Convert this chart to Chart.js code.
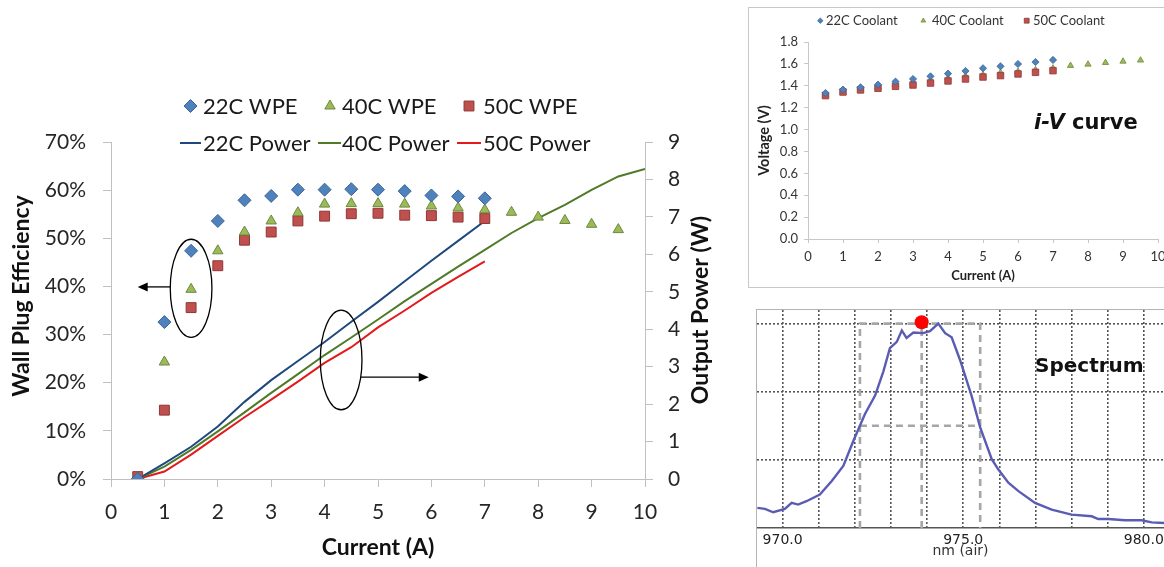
<!DOCTYPE html>
<html>
<head>
<meta charset="utf-8">
<script src="https://cdn.jsdelivr.net/npm/chart.js@4.4.1/dist/chart.umd.min.js"></script>
<style>
  html, body { margin: 0; padding: 0; background: #fff; overflow: hidden; }
  #page { position: relative; width: 1164px; height: 567px; overflow: hidden; }
  #mainChart { position: absolute; left: 0; top: 0; }
  #ivFrame { position: absolute; left: 748px; top: 7px; width: 431px; height: 279px; border: 1px solid #c8c8c8; }
  #specFrame { position: absolute; left: 756px; top: 309px; width: 407px; height: 257px; border: 1px solid #b4b4b4; }
  #ivFrame canvas, #specFrame canvas { position: absolute; left: 0; top: 0; }
  .note { position: absolute; font-family: 'DejaVu Sans', sans-serif; font-weight: bold; color: #111; white-space: nowrap; }
</style>
</head>
<body>
<div id="page">
  <canvas id="mainChart" width="745" height="567"></canvas>
  <div id="ivFrame"><canvas id="ivChart" width="431" height="279"></canvas></div>
  <div id="specFrame"><canvas id="specChart" width="407" height="257"></canvas></div>
  <div class="note" style="left:1034px; top:110px; font-size:21px;"><i>i-V</i> curve</div>
  <div class="note" style="left:1035px; top:353px; font-size:20px;">Spectrum</div>
</div>
<script>
// ---- main chart data (current in A, WPE in %, power in W)
const current = [0.5, 1, 1.5, 2, 2.5, 3, 3.5, 4, 4.5, 5, 5.5, 6, 6.5, 7, 7.5, 8, 8.5, 9, 9.5, 10];
const wpe22 = [0.0, 32.6, 47.4, 53.6, 57.9, 58.8, 60.1, 60.1, 60.2, 60.1, 59.8, 58.9, 58.7, 58.3];
const wpe40 = [0.0, 24.3, 39.4, 47.4, 51.3, 53.6, 55.3, 57.1, 57.2, 57.2, 57.1, 56.7, 56.3, 55.9, 55.4, 54.4, 53.7, 52.9, 51.8];
const wpe50 = [0.5, 14.3, 35.6, 44.3, 49.6, 51.3, 53.6, 54.6, 55.1, 55.2, 54.8, 54.7, 54.4, 54.1];
const power22 = [0, 0.42, 0.86, 1.40, 2.06, 2.64, 3.15, 3.66, 4.20, 4.73, 5.28, 5.83, 6.36, 6.89];
const power40 = [0, 0.33, 0.78, 1.27, 1.78, 2.30, 2.80, 3.31, 3.78, 4.26, 4.75, 5.21, 5.67, 6.12, 6.57, 6.97, 7.32, 7.72, 8.08, 8.28];
const power50 = [0, 0.20, 0.65, 1.15, 1.65, 2.12, 2.60, 3.10, 3.52, 4.05, 4.50, 4.97, 5.40, 5.81];
const currentTicks = [0, 1, 2, 3, 4, 5, 6, 7, 8, 9, 10];
const wpeTicks = [0, 10, 20, 30, 40, 50, 60, 70];
const powerTicks = [0, 1, 2, 3, 4, 5, 6, 7, 8, 9];

// callouts: ellipse centre / radii in data units, arrow tip in data units
const wpeCallout = { x: 1.5, y: 39.6, rx: 0.39, ry: 10.2, arrowX: 0.5, arrowY: 39.9 };
const powerCallout = { x: 4.31, y: 3.18, rx: 0.39, ry: 1.33, arrowX: 5.95, arrowY: 2.72 };

// ---- i-V inset data (current in A, voltage in V)
const iv22 = [1.334, 1.365, 1.386, 1.410, 1.438, 1.462, 1.486, 1.511, 1.535, 1.560, 1.578, 1.599, 1.617, 1.636];
const iv40 = [1.320, 1.350, 1.370, 1.390, 1.410, 1.430, 1.450, 1.470, 1.490, 1.500, 1.520, 1.530, 1.545, 1.560, 1.584, 1.596, 1.611, 1.623, 1.633];
const iv50 = [1.310, 1.343, 1.362, 1.377, 1.395, 1.407, 1.425, 1.444, 1.462, 1.480, 1.493, 1.508, 1.523, 1.538];
const voltTicks = [0, 0.2, 0.4, 0.6, 0.8, 1.0, 1.2, 1.4, 1.6, 1.8];

// ---- spectrum inset data (wavelength in nm, intensity in grid units)
const specNm = [969.30, 969.51, 969.74, 970.06, 970.25, 970.43, 970.66, 971.03, 971.36, 971.68, 971.96, 972.28, 972.56, 972.79, 972.97, 973.16, 973.30, 973.43, 973.62, 973.89, 974.08, 974.31, 974.50, 974.68, 974.91, 975.23, 975.47, 975.79, 975.97, 976.25, 976.53, 976.99, 977.45, 978.00, 978.56, 978.74, 979.02, 979.48, 979.94, 980.22, 980.56];
const specVal = [0.295, 0.280, 0.231, 0.280, 0.369, 0.344, 0.393, 0.492, 0.689, 0.910, 1.280, 1.674, 1.944, 2.300, 2.640, 2.732, 2.900, 2.790, 2.870, 2.860, 2.890, 3.000, 2.860, 2.800, 2.470, 1.944, 1.476, 1.009, 0.861, 0.664, 0.541, 0.369, 0.270, 0.196, 0.172, 0.132, 0.132, 0.113, 0.113, 0.083, 0.073];
const specGridNm = [970, 971, 972, 973, 974, 975, 976, 977, 978, 979, 980];
const specLabelNm = [970, 975, 980];
const specGridVal = [1, 2, 3];
const fwhmNm = [972.14, 975.47];
const peakNm = 973.85;
const peakDot = 3.02;
const peakLevel = 3.0;
const halfLevel = 1.5;

Chart.defaults.font.family = 'Lato';
Chart.defaults.animation = false;

function pts(xs, ys) {
  return ys.map((v, i) => ({ x: xs[i], y: v }));
}

function fixedTicks(values) {
  return scale => { scale.ticks = values.map(v => ({ value: v })); };
}

function marker(ctx, ds, x, y, scale = 1) {
  ctx.fillStyle = ds.backgroundColor;
  ctx.strokeStyle = ds.borderColor;
  ctx.lineWidth = ds.borderWidth;
  Chart.helpers.drawPoint(ctx, { pointStyle: ds.pointStyle, radius: ds.pointRadius * scale, rotation: 0, borderWidth: ds.borderWidth }, x, y);
}

function rotatedText(ctx, text, x, y) {
  ctx.save();
  ctx.translate(x, y);
  ctx.rotate(-Math.PI / 2);
  ctx.fillText(text, 0, 0);
  ctx.restore();
}

function arrow(ctx, x1, x2, y) {
  const dir = Math.sign(x2 - x1);
  ctx.beginPath();
  ctx.moveTo(x1, y);
  ctx.lineTo(x2 - dir * 8, y);
  ctx.stroke();
  ctx.beginPath();
  ctx.moveTo(x2, y);
  ctx.lineTo(x2 - dir * 10, y - 4.5);
  ctx.lineTo(x2 - dir * 10, y + 4.5);
  ctx.closePath();
  ctx.fill();
}

function callout(ctx, xs, ys, c) {
  const cx = xs.getPixelForValue(c.x), cy = ys.getPixelForValue(c.y);
  const rx = xs.getPixelForValue(c.x + c.rx) - cx;
  const ry = cy - ys.getPixelForValue(c.y + c.ry);
  ctx.beginPath();
  ctx.ellipse(cx, cy, rx, ry, 0, 0, Math.PI * 2);
  ctx.stroke();
  const ay = ys.getPixelForValue(c.arrowY);
  const tip = xs.getPixelForValue(c.arrowX);
  const k = (ay - cy) / ry;
  const edge = cx + Math.sign(tip - cx) * rx * Math.sqrt(1 - k * k);
  arrow(ctx, edge, tip, ay);
}

// ---------------- main chart ----------------
const mainLegend = [
  { ds: 0, text: '22C WPE', mx: 190.5, tx: 203, y: 106, base: 114 },
  { ds: 1, text: '40C WPE', mx: 330, tx: 342, y: 106, base: 114 },
  { ds: 2, text: '50C WPE', mx: 469, tx: 483, y: 106, base: 114 },
  { ds: 3, text: '22C Power', lx: [180, 201], tx: 203, y: 143, base: 151 },
  { ds: 4, text: '40C Power', lx: [318, 341], tx: 342, y: 143, base: 151 },
  { ds: 5, text: '50C Power', lx: [457, 481], tx: 483, y: 143, base: 151 }
];

const mainDecor = {
  id: 'mainDecor',
  afterDraw(chart) {
    const { ctx } = chart;
    const { x, y, y1 } = chart.scales;
    ctx.save();
    ctx.fillStyle = '#111';
    ctx.font = 'bold 23px Lato';
    ctx.textAlign = 'center';
    ctx.textBaseline = 'middle';
    rotatedText(ctx, 'Wall Plug Efficiency', 22, 296);
    rotatedText(ctx, 'Output Power (W)', 701, 310);

    ctx.font = '22px Lato';
    ctx.textAlign = 'left';
    ctx.textBaseline = 'alphabetic';
    mainLegend.forEach(item => {
      const ds = chart.data.datasets[item.ds];
      if (item.lx) {
        ctx.strokeStyle = ds.borderColor;
        ctx.lineWidth = 2;
        ctx.beginPath();
        ctx.moveTo(item.lx[0], item.y);
        ctx.lineTo(item.lx[1], item.y);
        ctx.stroke();
      } else {
        marker(ctx, ds, item.mx, item.y);
      }
      ctx.fillStyle = '#1a1a1a';
      ctx.fillText(item.text, item.tx, item.base);
    });

    ctx.strokeStyle = '#000';
    ctx.fillStyle = '#000';
    ctx.lineWidth = 1.3;
    callout(ctx, x, y, wpeCallout);
    callout(ctx, x, y1, powerCallout);
    ctx.restore();
  }
};

const axisGray = '#c0c0c0';
const tickFont = { family: 'Lato', size: 21 };

new Chart(document.getElementById('mainChart'), {
  type: 'line',
  data: {
    datasets: [
      { type: 'scatter', label: '22C WPE', data: pts(current, wpe22), yAxisID: 'y', pointStyle: 'rectRot', pointRadius: 6.5, backgroundColor: '#4f81bd', borderColor: '#3a6595', borderWidth: 1 },
      { type: 'scatter', label: '40C WPE', data: pts(current, wpe40), yAxisID: 'y', pointStyle: 'triangle', pointRadius: 6, backgroundColor: '#9bbb59', borderColor: '#6f883f', borderWidth: 1 },
      { type: 'scatter', label: '50C WPE', data: pts(current, wpe50), yAxisID: 'y', pointStyle: 'rect', pointRadius: 7, backgroundColor: '#c0504d', borderColor: '#8c3836', borderWidth: 1 },
      { type: 'line', label: '22C Power', data: pts(current, power22), yAxisID: 'y1', borderColor: '#1f497d', borderWidth: 2, pointRadius: 0, tension: 0 },
      { type: 'line', label: '40C Power', data: pts(current, power40), yAxisID: 'y1', borderColor: '#4f7a28', borderWidth: 2, pointRadius: 0, tension: 0 },
      { type: 'line', label: '50C Power', data: pts(current, power50), yAxisID: 'y1', borderColor: '#e31a1c', borderWidth: 2, pointRadius: 0, tension: 0 }
    ]
  },
  options: {
    responsive: false,
    events: [],
    layout: { autoPadding: false, padding: { top: 142, left: 0, right: 0, bottom: 0 } },
    plugins: { legend: { display: false }, tooltip: { enabled: false } },
    scales: {
      x: {
        type: 'linear', min: 0, max: 10,
        afterBuildTicks: fixedTicks(currentTicks),
        afterFit: s => { s.height = 88; },
        ticks: { font: tickFont, color: '#262626', padding: 13, maxRotation: 0 },
        grid: { drawOnChartArea: false, tickLength: 8, color: axisGray },
        border: { color: axisGray },
        title: { display: true, text: 'Current (A)', font: { family: 'Lato', size: 23, weight: 'bold' }, color: '#111', padding: { top: 0, bottom: 6 } }
      },
      y: {
        type: 'linear', position: 'left', min: 0, max: 70,
        afterBuildTicks: fixedTicks(wpeTicks),
        afterFit: s => { s.width = 111; },
        ticks: { font: tickFont, color: '#262626', padding: 17, callback: v => v + '%' },
        grid: { drawOnChartArea: false, tickLength: 8, color: axisGray },
        border: { color: axisGray }
      },
      y1: {
        type: 'linear', position: 'right', min: 0, max: 9,
        afterBuildTicks: fixedTicks(powerTicks),
        afterFit: s => { s.width = 100; },
        ticks: { font: tickFont, color: '#262626', padding: 15 },
        grid: { drawOnChartArea: false, tickLength: 8, color: axisGray },
        border: { color: axisGray }
      }
    }
  },
  plugins: [mainDecor]
});

// ---------------- i-V inset ----------------
const ivLegend = [
  { ds: 0, text: '22C Coolant', mx: 71.3, tx: 77 },
  { ds: 2, text: '40C Coolant', mx: 174.3, tx: 183 },
  { ds: 1, text: '50C Coolant', mx: 277.7, tx: 284 }
];

const ivDecor = {
  id: 'ivDecor',
  afterDraw(chart) {
    const { ctx } = chart;
    ctx.save();
    ctx.font = '13px Lato';
    ctx.textBaseline = 'middle';
    ivLegend.forEach(item => {
      marker(ctx, chart.data.datasets[item.ds], item.mx, 12.7, 0.75);
      ctx.fillStyle = '#333';
      ctx.fillText(item.text, item.tx, 13);
    });
    ctx.restore();
  }
};

const ivFont = { family: 'Lato', size: 13 };
new Chart(document.getElementById('ivChart'), {
  type: 'scatter',
  data: {
    datasets: [
      { label: '22C Coolant', data: pts(current, iv22), pointStyle: 'rectRot', pointRadius: 3.6, backgroundColor: '#4f81bd', borderColor: '#3a6595', borderWidth: 0.8 },
      { label: '50C Coolant', data: pts(current, iv50), pointStyle: 'rect', pointRadius: 4.6, backgroundColor: '#c0504d', borderColor: '#8c3836', borderWidth: 0.8 },
      { label: '40C Coolant', data: pts(current, iv40), pointStyle: 'triangle', pointRadius: 3.6, backgroundColor: '#9bbb59', borderColor: '#6f883f', borderWidth: 0.8 }
    ]
  },
  options: {
    responsive: false,
    events: [],
    layout: { autoPadding: false, padding: { top: 34, left: 0, right: 22, bottom: 0 } },
    plugins: { legend: { display: false }, tooltip: { enabled: false } },
    scales: {
      x: {
        type: 'linear', min: 0, max: 10,
        afterBuildTicks: fixedTicks(currentTicks),
        afterFit: s => { s.height = 48; },
        ticks: { font: ivFont, color: '#333', padding: 6, maxRotation: 0 },
        grid: { drawOnChartArea: false, tickLength: 4, color: '#c8c8c8' },
        border: { color: '#c8c8c8' },
        title: { display: true, text: 'Current (A)', font: { family: 'Lato', size: 13, weight: 'bold' }, color: '#222', padding: { top: 0, bottom: 3 } }
      },
      y: {
        type: 'linear', min: 0, max: 1.8,
        afterBuildTicks: fixedTicks(voltTicks),
        afterFit: s => { s.width = 59; },
        ticks: { font: ivFont, color: '#333', padding: 6, callback: v => v.toFixed(1) },
        grid: { drawOnChartArea: false, tickLength: 4, color: '#c8c8c8' },
        border: { color: '#c8c8c8' },
        title: { display: true, text: 'Voltage (V)', font: { family: 'Lato', size: 14.5, weight: 'bold' }, color: '#222', padding: { top: 7, bottom: 0 } }
      }
    }
  },
  plugins: [ivDecor]
});

// ---------------- spectrum inset ----------------
const dashGray = '#a6a6a6';
const dotGrid = { color: '#555', lineWidth: 1.6, drawTicks: false };
const specFont = { family: 'DejaVu Sans', size: 14, lineHeight: 1 };

new Chart(document.getElementById('specChart'), {
  type: 'line',
  data: {
    datasets: [
      { type: 'scatter', data: [{ x: peakNm, y: peakDot }], pointRadius: 7, backgroundColor: '#ff0000', borderWidth: 0 },
      { data: pts(specNm, specVal), borderColor: '#5a5cb4', borderWidth: 2.4, pointRadius: 0, tension: 0 },
      { data: [{ x: fwhmNm[0], y: 0 }, { x: fwhmNm[0], y: peakLevel }, { x: fwhmNm[1], y: peakLevel }, { x: fwhmNm[1], y: 0 }], borderColor: dashGray, borderWidth: 2.6, borderDash: [7, 5], pointRadius: 0 },
      { data: [{ x: peakNm, y: 0 }, { x: peakNm, y: peakLevel }], borderColor: dashGray, borderWidth: 2.6, borderDash: [7, 5], pointRadius: 0 },
      { data: [{ x: fwhmNm[0], y: halfLevel }, { x: fwhmNm[1], y: halfLevel }], borderColor: dashGray, borderWidth: 2.6, borderDash: [7, 5], pointRadius: 0 }
    ]
  },
  options: {
    responsive: false,
    events: [],
    layout: { autoPadding: false, padding: 0 },
    plugins: { legend: { display: false }, tooltip: { enabled: false } },
    scales: {
      x: {
        type: 'linear', min: 969.29, max: 980.56,
        afterBuildTicks: fixedTicks(specGridNm),
        afterFit: s => { s.height = 39; s.paddingLeft = 0; s.paddingRight = 0; },
        ticks: { font: specFont, color: '#222', padding: 5, maxRotation: 0, autoSkip: false,
          callback: v => specLabelNm.includes(v) ? v.toFixed(1) : '' },
        grid: dotGrid,
        border: { color: '#555', width: 1.5, dash: [2, 2] },
        title: { display: true, text: 'nm (air)', font: specFont, color: '#333', padding: { top: 0, bottom: 9 } }
      },
      y: {
        type: 'linear', min: 0, max: 3.2,
        afterBuildTicks: fixedTicks(specGridVal),
        afterFit: s => { s.width = 0; s.paddingTop = 0; s.paddingBottom = 0; },
        ticks: { display: false },
        grid: dotGrid,
        border: { display: false, dash: [2, 2] }
      }
    }
  }
});
</script>
</body>
</html>
